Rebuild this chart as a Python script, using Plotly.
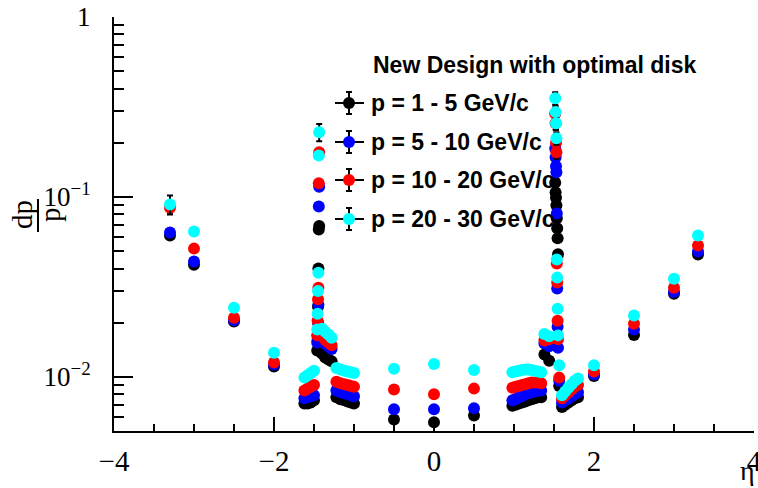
import plotly.graph_objects as go

# pseudorapidity points of the scan
eta = [-3.3, -3.0, -2.5, -2.0,
       -1.62, -1.58, -1.54, -1.50,
       -1.46, -1.455, -1.45, -1.445, -1.44, -1.435,
       -1.40, -1.36, -1.32, -1.28,
       -1.22, -1.17, -1.12, -1.08, -1.04, -1.00,
       -0.5, 0.0, 0.5,
       0.98, 1.02, 1.06, 1.10, 1.14, 1.18, 1.22, 1.26, 1.30, 1.34,
       1.38, 1.44,
       1.515, 1.52, 1.525, 1.53, 1.535, 1.54, 1.545, 1.55, 1.565,
       1.60, 1.64, 1.68, 1.72, 1.76, 1.80,
       2.0, 2.5, 3.0, 3.3]

# momentum resolution dp/p for each momentum bin
dp_1_5 = [0.0611, 0.0420, 0.0203, 0.0114,
          0.0071, 0.0071, 0.0072, 0.0074,
          0.0140, 0.0160, 0.0245, 0.0400, 0.0660, 0.0690,
          0.0135, 0.0128, 0.0125, 0.0122,
          0.0077, 0.0075, 0.0074, 0.0073, 0.0072, 0.0071,
          0.0058, 0.0056, 0.0061,
          0.0069, 0.0070, 0.0071, 0.0072, 0.0073, 0.0074, 0.0075, 0.0076, 0.0077, 0.0077,
          0.0133, 0.0123,
          0.120, 0.106, 0.099, 0.090, 0.076, 0.067, 0.059, 0.048, 0.0089,
          0.0068, 0.0070, 0.0072, 0.0074, 0.0076, 0.0077,
          0.0101, 0.0171, 0.0290, 0.0478]

dp_5_10 = [0.0634, 0.0437, 0.0206, 0.0117,
           0.0076, 0.0077, 0.0078, 0.0079,
           0.0155, 0.0170, 0.0200, 0.0252, 0.0885, 0.114,
           0.0160, 0.0152, 0.0148, 0.0143,
           0.0084, 0.0082, 0.0081, 0.0080, 0.0079, 0.0078,
           0.0066, 0.0066, 0.0067,
           0.0074, 0.0075, 0.0077, 0.0078, 0.0080, 0.0081, 0.0082, 0.0083, 0.0084, 0.0084,
           0.0153, 0.0148,
           0.186, 0.166, 0.148, 0.137, 0.081, 0.031, 0.0190, 0.0145, 0.0095,
           0.0072, 0.0074, 0.0076, 0.0078, 0.0080, 0.0082,
           0.0103, 0.0183, 0.0296, 0.0497]

dp_10_20 = [0.0870, 0.0516, 0.0213, 0.0120,
            0.0084, 0.0086, 0.0088, 0.0090,
            0.0170, 0.0205, 0.0270, 0.0313, 0.119, 0.177,
            0.0168, 0.0160, 0.0155, 0.0150,
            0.0094, 0.0092, 0.0091, 0.0090, 0.0089, 0.0088,
            0.0085, 0.0080, 0.0086,
            0.0087, 0.0088, 0.0089, 0.0090, 0.0091, 0.0092, 0.0093, 0.0093, 0.0093, 0.0092,
            0.0159, 0.0162,
            0.290, 0.257, 0.200, 0.177, 0.0426, 0.0334, 0.0205, 0.0162, 0.0099,
            0.0076, 0.0079, 0.0082, 0.0085, 0.0088, 0.0090,
            0.0107, 0.0197, 0.0313, 0.0537]

dp_20_30 = [0.0908, 0.0643, 0.0242, 0.0136,
            0.0099, 0.0102, 0.0105, 0.0108,
            0.0183, 0.0224, 0.0300, 0.0379, 0.170, 0.229,
            0.0185, 0.0178, 0.0172, 0.0165,
            0.0112, 0.0110, 0.0108, 0.0107, 0.0106, 0.0105,
            0.0111, 0.0118, 0.0109,
            0.0106, 0.0107, 0.0108, 0.0109, 0.0110, 0.0110, 0.0109, 0.0108, 0.0107, 0.0106,
            0.0173, 0.0168,
            0.354, 0.296, 0.257, 0.212, 0.0449, 0.0356, 0.0239, 0.0170, 0.0116,
            0.0079, 0.0083, 0.0087, 0.0091, 0.0095, 0.0098,
            0.0116, 0.0219, 0.0351, 0.0610]

# relative uncertainties: common value plus larger ones near the transition
rel_err_common = 0.03
rel_err_large = {
    "p = 1 - 5 GeV/c": {39: 0.08, 40: 0.08, 41: 0.08, 42: 0.08},
    "p = 5 - 10 GeV/c": {39: 0.08, 40: 0.08, 41: 0.08, 42: 0.08},
    "p = 10 - 20 GeV/c": {0: 0.06, 39: 0.08, 40: 0.08, 41: 0.08, 42: 0.08},
    "p = 20 - 30 GeV/c": {0: 0.12, 13: 0.11, 39: 0.08, 40: 0.08, 41: 0.08, 42: 0.08},
}

series_names = ["p = 1 - 5 GeV/c", "p = 5 - 10 GeV/c", "p = 10 - 20 GeV/c", "p = 20 - 30 GeV/c"]
series_values = [dp_1_5, dp_5_10, dp_10_20, dp_20_30]
series_colors = ["#000000", "#0000ff", "#ff0000", "#00ffff"]

legend_header = "New Design with optimal disk"
y_tickvals = [0.01, 0.1, 1]
y_ticktext = ["10<sup>\u22122</sup>", "10<sup>\u22121</sup>", "1"]
y_minor = [0.005, 0.006, 0.007, 0.008, 0.009,
           0.02, 0.03, 0.04, 0.05, 0.06, 0.07, 0.08, 0.09,
           0.2, 0.3, 0.4, 0.5, 0.6, 0.7, 0.8, 0.9]

fig = go.Figure()
for name, vals, col in zip(series_names, series_values, series_colors):
    extra = rel_err_large[name]
    errs = [v * extra.get(i, rel_err_common) for i, v in enumerate(vals)]
    fig.add_trace(go.Scatter(
        x=eta, y=vals, mode="markers", name=name,
        marker=dict(color=col, size=12, line=dict(width=0)),
        error_y=dict(type="data", array=errs, visible=True,
                     color="black", thickness=2, width=3),
        showlegend=False,
    ))

# plot frame in pixels
PL, PR, PT, PB = 114, 754, 17, 431
W, H = 758, 488


def px_x(x):
    return (x - PL) / (PR - PL)


def px_y(y):
    return (PB - y) / (PB - PT)


serif = "Liberation Serif"
sans = "Liberation Sans"

shapes = []
annotations = []

# legend header and entries
annotations.append(dict(x=px_x(371), y=px_y(65), xref="paper", yref="paper",
                        text="<b>%s</b>" % legend_header, showarrow=False,
                        xanchor="left", yanchor="middle",
                        font=dict(family=sans, size=23, color="black")))
entry_y = [103, 142, 180, 219]
for name, col, ey in zip(series_names, series_colors, entry_y):
    line = dict(color="black", width=2)
    shapes.append(dict(type="line", xref="paper", yref="paper",
                       x0=px_x(335), x1=px_x(364), y0=px_y(ey), y1=px_y(ey), line=line))
    shapes.append(dict(type="line", xref="paper", yref="paper",
                       x0=px_x(349), x1=px_x(349), y0=px_y(ey - 11), y1=px_y(ey + 11), line=line))
    for dy in (-11, 11):
        shapes.append(dict(type="line", xref="paper", yref="paper",
                           x0=px_x(346), x1=px_x(352), y0=px_y(ey + dy), y1=px_y(ey + dy), line=line))
    shapes.append(dict(type="circle", xref="paper", yref="paper",
                       x0=px_x(343), x1=px_x(355), y0=px_y(ey + 6), y1=px_y(ey - 6),
                       fillcolor=col, line=dict(width=0)))
    annotations.append(dict(x=px_x(369), y=px_y(ey), xref="paper", yref="paper",
                            text="<b>%s</b>" % name, showarrow=False,
                            xanchor="left", yanchor="middle",
                            font=dict(family=sans, size=23, color="black")))

# y-axis title as a fraction dp / p
annotations.append(dict(x=px_x(22), y=px_y(215), xref="paper", yref="paper",
                        text="dp", textangle=-90, showarrow=False,
                        xanchor="center", yanchor="middle",
                        font=dict(family=serif, size=29, color="black")))
annotations.append(dict(x=px_x(50), y=px_y(215), xref="paper", yref="paper",
                        text="p", textangle=-90, showarrow=False,
                        xanchor="center", yanchor="middle",
                        font=dict(family=serif, size=29, color="black")))
shapes.append(dict(type="line", xref="paper", yref="paper",
                   x0=px_x(38), x1=px_x(38), y0=px_y(199), y1=px_y(232),
                   line=dict(color="black", width=2)))

# x-axis title
annotations.append(dict(x=px_x(757), y=px_y(470), xref="paper", yref="paper",
                        text="\u03b7", showarrow=False,
                        xanchor="right", yanchor="middle",
                        font=dict(family=serif, size=28, color="black")))

fig.update_layout(
    width=W, height=H,
    margin=dict(l=PL, r=W - PR, t=PT, b=H - PB, pad=0, autoexpand=False),
    paper_bgcolor="white", plot_bgcolor="white",
    showlegend=False,
    shapes=shapes, annotations=annotations,
    xaxis=dict(range=[-4, 4], showgrid=False, zeroline=False, automargin=False,
               showline=True, linecolor="black", linewidth=2,
               ticks="inside", ticklen=14, tickwidth=2, tickcolor="black",
               tickmode="linear", tick0=-4, dtick=2,
               minor=dict(ticks="inside", ticklen=7, tickwidth=2, tickcolor="black",
                          tickmode="linear", dtick=0.5, showgrid=False),
               tickfont=dict(family=serif, size=29, color="black"),
               ticklabeloverflow="allow",
               ticklabelstandoff=3),
    yaxis=dict(type="log", range=[-2.30103, 0], showgrid=False, zeroline=False,
               automargin=False,
               showline=True, linecolor="black", linewidth=2,
               ticks="inside", ticklen=19, tickwidth=2, tickcolor="black",
               tickmode="array", tickvals=y_tickvals, ticktext=y_ticktext,
               minor=dict(ticks="inside", ticklen=10, tickwidth=2, tickcolor="black",
                          tickmode="array", tickvals=y_minor, showgrid=False),
               tickfont=dict(family=serif, size=27, color="black"),
               ticklabeloverflow="allow",
               ticklabelstandoff=16),
)

fig.write_html("out.html")
